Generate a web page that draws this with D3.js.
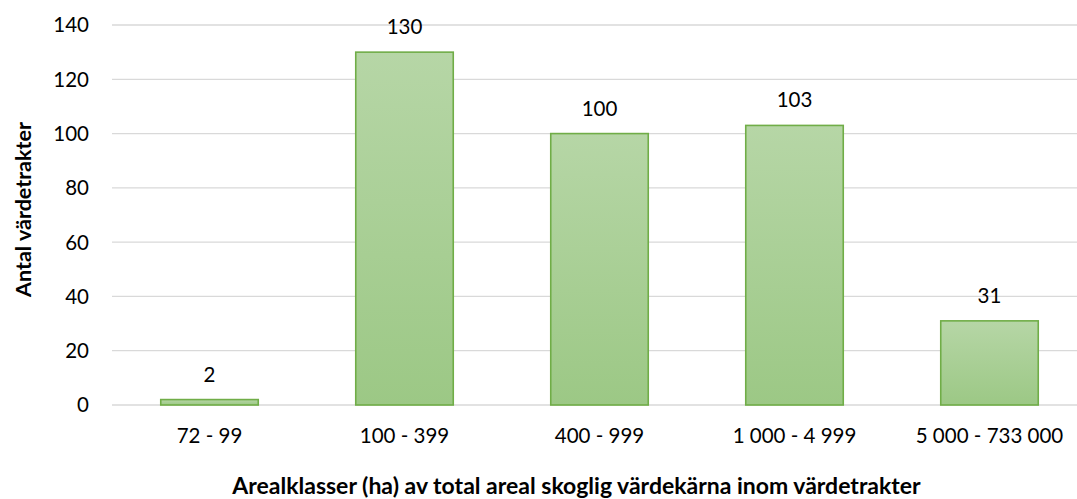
<!DOCTYPE html>
<html><head><meta charset="utf-8">
<script src="https://cdn.jsdelivr.net/npm/d3@7"></script>
<style>body{margin:0;background:#fff;} text{font-family:Lato, "Open Sans", sans-serif;}</style>
</head><body>
<svg id="c" width="1077" height="499"></svg>
<script>
const categories = ["72 - 99", "100 - 399", "400 - 999", "1 000 - 4 999", "5 000 - 733 000"];
const values = [2, 130, 100, 103, 31];
const yTicks = [0, 20, 40, 60, 80, 100, 120, 140];
const yTitle = "Antal värdetrakter";
const xTitle = "Arealklasser (ha) av total areal skoglig värdekärna inom värdetrakter";

const svg = d3.select("#c");
const pLeft = 112, pRight = 1087, pTop = 25, pBottom = 405;
const fs = 20.5;
const x = d3.scaleBand().domain(categories).range([pLeft, pRight]).paddingInner(0.5).paddingOuter(0.25);
const y = d3.scaleLinear().domain([0, 140]).range([pBottom, pTop]);

const defs = svg.append("defs");
const g = defs.append("linearGradient").attr("id", "bg").attr("x1", 0).attr("y1", 0).attr("x2", 0).attr("y2", 1);
g.append("stop").attr("offset", "0%").attr("stop-color", "#b6d6a6");
g.append("stop").attr("offset", "100%").attr("stop-color", "#9cc885");

// grid
svg.append("g").selectAll("line").data(yTicks).join("line")
  .attr("x1", pLeft).attr("x2", 1077).attr("y1", d => y(d)).attr("y2", d => y(d))
  .attr("stroke", "#d9d9d9").attr("stroke-width", 1.3);

// y tick labels
svg.append("g").selectAll("text").data(yTicks).join("text")
  .attr("x", 89).attr("y", d => y(d)).attr("dy", "0.36em").attr("text-anchor", "end")
  .attr("font-size", fs).attr("fill", "#000").text(d => d);

// bars
svg.append("g").selectAll("rect").data(values).join("rect")
  .attr("x", (d, i) => x(categories[i]))
  .attr("width", x.bandwidth())
  .attr("y", d => y(d))
  .attr("height", d => y(0) - y(d))
  .attr("fill", "url(#bg)").attr("stroke", "#70ad47").attr("stroke-width", 1.6);

// value labels
svg.append("g").selectAll("text").data(values).join("text")
  .attr("x", (d, i) => x(categories[i]) + x.bandwidth() / 2)
  .attr("y", d => y(d) - 18).attr("text-anchor", "middle")
  .attr("font-size", fs).attr("fill", "#000").text(d => d);

// x tick labels
svg.append("g").selectAll("text").data(categories).join("text")
  .attr("x", d => x(d) + x.bandwidth() / 2).attr("y", 443).attr("text-anchor", "middle")
  .attr("font-size", fs).attr("fill", "#000").text(d => d);

svg.append("text").attr("x", 576.5).attr("y", 494).attr("text-anchor", "middle")
  .attr("font-size", 23).attr("font-weight", "bold").text(xTitle);

svg.append("text").attr("transform", "translate(31,209.5) rotate(-90)").attr("text-anchor", "middle")
  .attr("font-size", 21.5).attr("font-weight", "bold").text(yTitle);
</script>
</body></html>
